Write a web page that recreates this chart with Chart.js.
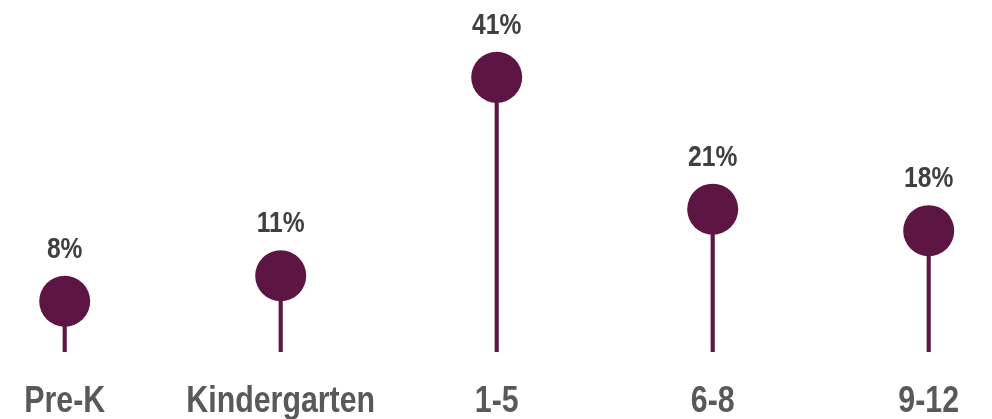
<!DOCTYPE html>
<html>
<head>
<meta charset="utf-8">
<script src="https://cdn.jsdelivr.net/npm/chart.js@4"></script>
<style>
html,body{margin:0;padding:0;background:#fff;}
#wrap{width:992px;height:419px;position:relative;}
</style>
</head>
<body>
<div id="wrap"><canvas id="c" width="992" height="419"></canvas></div>
<script>
const categories = ["Pre-K", "Kindergarten", "1-5", "6-8", "9-12"];
const values = [7.5, 11.3, 40.8, 21.2, 18.0];
const valueLabels = ["8%", "11%", "41%", "21%", "18%"];

const COLOR = "#5D1544";
const FONT = "'Liberation Sans', Arial, sans-serif";
const NARROW = 0.82;
const R = 25.5;

function narrowText(ctx, text, x, y) {
  ctx.save();
  ctx.translate(x, y);
  ctx.scale(NARROW, 1);
  ctx.fillText(text, 0, 0);
  ctx.restore();
}

const labelPlugin = {
  id: 'labels',
  afterDatasetsDraw(chart) {
    const ctx = chart.ctx;
    const xs = chart.scales.x, ys = chart.scales.y;
    ctx.save();
    ctx.textAlign = 'center';
    ctx.textBaseline = 'alphabetic';
    categories.forEach((c, i) => {
      const x = xs.getPixelForValue(i);
      const y = ys.getPixelForValue(values[i]);
      ctx.font = "bold 30px " + FONT;
      ctx.fillStyle = "#404040";
      narrowText(ctx, valueLabels[i], x, y - R - 18);
      ctx.font = "bold 37px " + FONT;
      ctx.fillStyle = "#595959";
      narrowText(ctx, c, x, 411.5);
    });
    ctx.restore();
  }
};

new Chart(document.getElementById('c'), {
  type: 'bar',
  data: {
    labels: categories,
    datasets: [
      {
        type: 'line',
        data: values,
        showLine: false,
        pointRadius: R,
        pointHoverRadius: R,
        pointBackgroundColor: COLOR,
        pointBorderWidth: 0,
        borderColor: COLOR,
        clip: false,
        order: 0
      },
      {
        type: 'bar',
        data: values,
        backgroundColor: COLOR,
        barThickness: 3.5,
        borderWidth: 0,
        clip: false,
        order: 1
      }
    ]
  },
  options: {
    responsive: false,
    animation: false,
    events: [],
    layout: { autoPadding: false, padding: { left: 64.7, right: 63.3, top: 0, bottom: 67.3 } },
    plugins: { legend: { display: false }, tooltip: { enabled: false } },
    scales: {
      x: { display: false, offset: false, grid: { offset: false } },
      y: { display: false, min: 0, max: 52.3 }
    }
  },
  plugins: [labelPlugin]
});
</script>
</body>
</html>
